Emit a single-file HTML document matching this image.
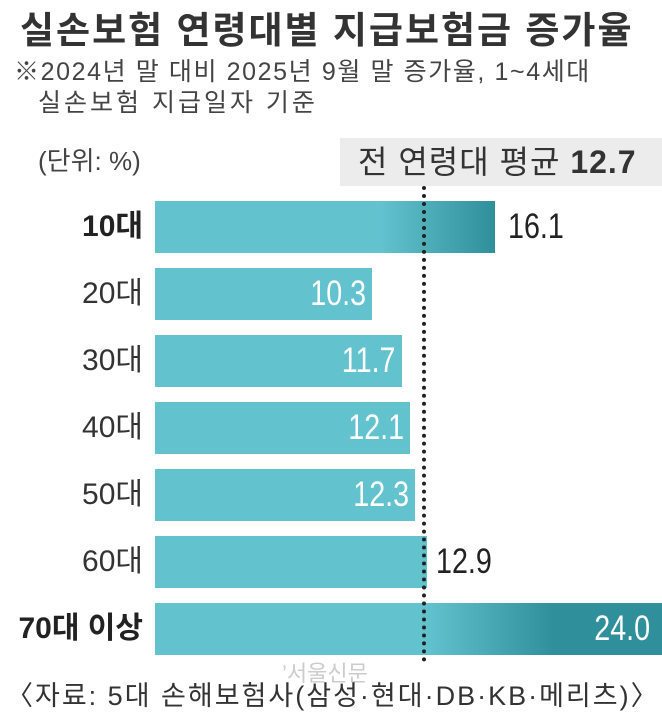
<!DOCTYPE html>
<html><head><meta charset="utf-8"><style>
body{margin:0;width:662px;height:712px;background:#fff;position:relative;overflow:hidden;font-family:"Liberation Sans","Noto Sans CJK KR",sans-serif;color:#222}
.a{position:absolute;white-space:nowrap}
.bar{position:absolute;left:155px;height:52px;background:#62c3cf}
.lab{position:absolute;left:0;width:143px;text-align:right;font-size:30px;line-height:52px;color:#333}
.v{position:absolute;font-size:35px;line-height:52px;transform:scaleX(.82);transform-origin:left}
.in{color:#fff;transform-origin:right}
</style></head><body>
<div class="a" style="left:20px;top:0px;font-size:37px;letter-spacing:2px;font-weight:bold;color:#333">실손보험 연령대별 지급보험금 증가율</div>
<div class="a" style="left:14px;top:52px;font-size:25px;letter-spacing:1.6px;color:#444">※2024년 말 대비 2025년 9월 말 증가율, 1~4세대</div>
<div class="a" style="left:38px;top:83px;font-size:25px;letter-spacing:3px;color:#444">실손보험 지급일자 기준</div>
<div class="a" style="left:38px;top:141px;font-size:26px;color:#444">(단위: %)</div>
<div class="a" style="left:340px;top:138px;width:322px;height:48px;background:#ececec"></div>
<div class="a" style="left:358px;top:140px;font-size:32px;letter-spacing:1px;line-height:44px;color:#333">전 연령대 평균 <b>12.7</b></div>

<div class="bar" style="top:201px;width:340px;background:linear-gradient(to right,#62c3cf 0,#62c3cf 225px,#2f8f9a 340px)"></div>
<div class="bar" style="top:268px;width:217px"></div>
<div class="bar" style="top:335px;width:247px"></div>
<div class="bar" style="top:402px;width:255px"></div>
<div class="bar" style="top:469px;width:260px"></div>
<div class="bar" style="top:536px;width:272px"></div>
<div class="bar" style="top:603px;width:507px;background:linear-gradient(to right,#62c3cf 0,#62c3cf 270px,#2f8f9a 400px,#2f8f9a 507px)"></div>

<div class="a" style="left:422px;top:186px;height:476px;border-left:4px dotted #222"></div>

<div class="lab" style="top:201px;font-weight:bold;color:#222">10대</div>
<div class="lab" style="top:268px">20대</div>
<div class="lab" style="top:335px">30대</div>
<div class="lab" style="top:402px">40대</div>
<div class="lab" style="top:469px">50대</div>
<div class="lab" style="top:536px">60대</div>
<div class="lab" style="top:603px;font-weight:bold;color:#222">70대 이상</div>

<div class="v" style="left:508px;top:201px;color:#222">16.1</div>
<div class="v in" style="right:296px;top:268px">10.3</div>
<div class="v in" style="right:266px;top:335px">11.7</div>
<div class="v in" style="right:258px;top:402px">12.1</div>
<div class="v in" style="right:253px;top:469px">12.3</div>
<div class="v" style="left:436px;top:536px;color:#222">12.9</div>
<div class="v in" style="right:12px;top:603px">24.0</div>

<div class="a" style="left:282px;top:656px;font-size:22px;color:#ccc">’서울신문</div>
<div class="a" style="left:6px;top:674px;font-size:27px;letter-spacing:2px;color:#333">〈자료: 5대 손해보험사(삼성·현대·DB·KB·메리츠)〉</div>
</body></html>
